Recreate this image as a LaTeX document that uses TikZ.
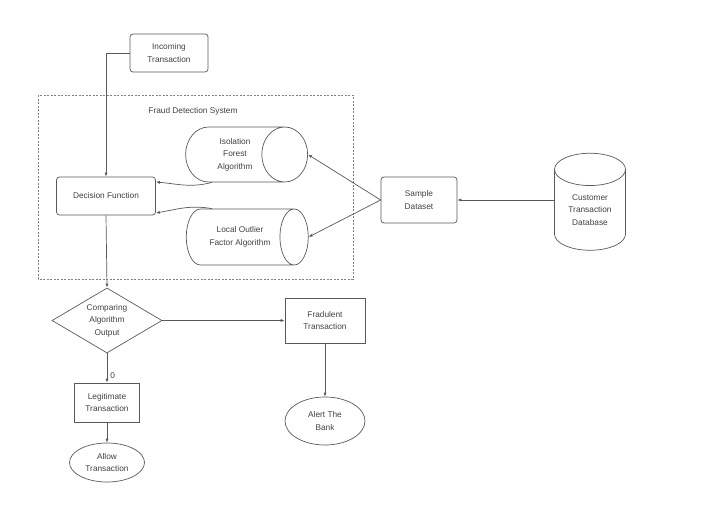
\documentclass[tikz,border=0pt]{standalone}
\usepackage{fontspec}
\setmainfont{Liberation Sans}
\usetikzlibrary{shapes.geometric,arrows.meta}

\begin{document}
\begin{tikzpicture}[x=1pt,y=-1pt,
  every node/.style={font=\fontsize{8.3}{12.5}\selectfont, text=black!75, align=center},
  ln/.style={draw=black!65, line width=0.7pt},
  arr/.style={ln, -{Latex[length=4pt,width=3pt]}},
  rbox/.style={ln, rounded corners=3pt, inner sep=0pt},
  sbox/.style={ln, inner sep=0pt},
  oval/.style={ln, ellipse, inner sep=0pt},
  cyl/.style={ln, cylinder, inner sep=0pt},
  frame/.style={draw=black!50, dashed, line width=0.6pt, dash pattern=on 2pt off 1.5pt}
]
  \useasboundingbox (0,0) rectangle (720,509);
  % system frame
  \draw[frame] (38,95) rectangle (353,279);
  \node (fdsl) at (193,111) {Fraud Detection System};
  % nodes
  \node[rbox, minimum width=78pt, minimum height=38pt] (inc) at (169,53) {Incoming\\Transaction};
  \node[rbox, minimum width=99pt, minimum height=38pt] (dec) at (106,196) {Decision Function};
  \node[cyl, minimum width=55pt, minimum height=122pt, shape aspect=1.4] (ifa) at (235,154.5) {Isolation\\Forest\\Algorithm};
  \node[cyl, minimum width=56pt, minimum height=122pt, shape aspect=1.4] (lof) at (240,237) {Local Outlier\\Factor Algorithm};
  \node[rbox, minimum width=76pt, minimum height=46pt] (smp) at (419,200) {Sample\\Dataset};
  \node[cyl, shape border rotate=90, minimum width=71pt, minimum height=97pt, shape aspect=0.75] (db) at (590,210) {Customer\\Transaction\\Database};
  \node[ln, diamond, inner sep=0pt, shape aspect=1.7, minimum width=110pt, minimum height=65pt] (cmp) at (107,320.5) {Comparing\\Algorithm\\Output};
  \node[sbox, minimum width=80pt, minimum height=45pt] (fra) at (325,320.5) {Fradulent\\Transaction};
  \node[oval, minimum width=80pt, minimum height=48pt] (alr) at (325,421) {Alert The\\Bank};
  \node[sbox, minimum width=65pt, minimum height=39pt] (leg) at (107,402.5) {Legitimate\\Transaction};
  \node[oval, minimum width=75pt, minimum height=39pt] (alw) at (107,462.5) {Allow\\Transaction};
  % connectors
  \draw[arr] (inc.west) -| (dec.north);
  \draw[arr] ([xshift=-23pt]ifa.south) to[out=195,in=-5] ([yshift=14pt]dec.east);
  \draw[arr] ([xshift=-28pt]lof.north) to[out=170,in=10] ([yshift=-17pt]dec.east);
  \draw[arr] (smp.west) -- (ifa.east);
  \draw[arr] (smp.west) -- (lof.east);
  \draw[arr] (db.west |- smp.east) -- (smp.east);
  \draw[arr] (dec.south) -- (cmp.north);
  \draw[arr] (cmp.east) -- (fra.west);
  \draw[arr] (cmp.south) -- node[pos=0.75, right, inner sep=3pt] (zero) {0} (leg.north);
  \draw[arr] (leg.south) -- (alw.north);
  \draw[arr] (fra.south) -- (alr.north);
\end{tikzpicture}
\end{document}
